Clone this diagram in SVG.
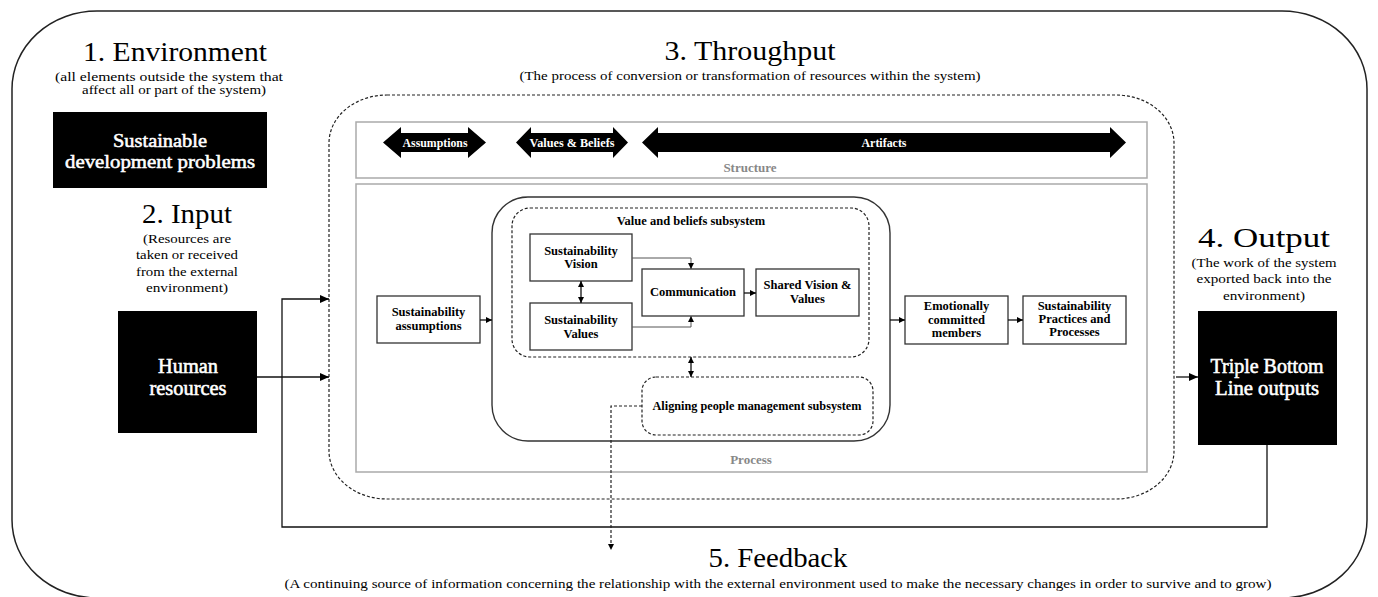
<svg xmlns="http://www.w3.org/2000/svg" width="1378" height="597" viewBox="0 0 1378 597">
<style>
text{font-family:"Liberation Serif","Times New Roman",serif;fill:#000}
.title{font-size:28px}
.sub{font-size:13.5px}
.wb{fill:#fff;stroke:#fff;stroke-width:0.55}
.bx{fill:#fff;stroke:#333;stroke-width:1.3}
.lbl{font-size:12.5px;font-weight:bold;text-anchor:middle}
.gray{fill:#888;font-size:13px;font-weight:bold;text-anchor:middle}
.mid{text-anchor:middle}
.ln{fill:none;stroke:#111;stroke-width:1.3}
.dash{fill:none;stroke:#222;stroke-width:1.2;stroke-dasharray:3 2}
.ab{fill:#fff;font-weight:bold;text-anchor:middle;font-size:11.5px}
</style>
<defs>
<marker id="ah" markerUnits="userSpaceOnUse" markerWidth="9" markerHeight="8" refX="9" refY="4" orient="auto-start-reverse"><path d="M0,0 L9,4 L0,8 z" fill="#000"/></marker>
<marker id="as" markerUnits="userSpaceOnUse" markerWidth="6" markerHeight="6" refX="6" refY="3" orient="auto-start-reverse"><path d="M0,0 L6,3 L0,6 z" fill="#000"/></marker>
</defs>

<g id="frame">
<rect x="12" y="11" width="1355" height="587" rx="85" ry="78" fill="none" stroke="#222" stroke-width="1.5"/>
</g>

<g id="environment">
<text class="title mid" x="175" y="61" textLength="184" lengthAdjust="spacingAndGlyphs">1. Environment</text>
<text class="sub mid" x="169" y="81" textLength="228" lengthAdjust="spacingAndGlyphs">(all elements outside the system that</text>
<text class="sub mid" x="174" y="94" textLength="184" lengthAdjust="spacingAndGlyphs">affect all or part of the system)</text>
</g>
<g id="sdp">
<rect x="53" y="112" width="214" height="76" fill="#000"/>
<text class="wb mid" x="160" y="147" font-size="19" textLength="94" lengthAdjust="spacingAndGlyphs">Sustainable</text>
<text class="wb mid" x="160" y="168" font-size="19" textLength="190" lengthAdjust="spacingAndGlyphs">development problems</text>
</g>

<g id="input">
<text class="title mid" x="187" y="223" textLength="90" lengthAdjust="spacingAndGlyphs">2. Input</text>
<text class="sub mid" x="187" y="243" textLength="88" lengthAdjust="spacingAndGlyphs">(Resources are</text>
<text class="sub mid" x="187" y="259" textLength="102" lengthAdjust="spacingAndGlyphs">taken or received</text>
<text class="sub mid" x="187" y="276" textLength="102" lengthAdjust="spacingAndGlyphs">from the external</text>
<text class="sub mid" x="187" y="292" textLength="82" lengthAdjust="spacingAndGlyphs">environment)</text>
</g>
<g id="human">
<rect x="118" y="311" width="139" height="122" fill="#000"/>
<text class="wb mid" x="188" y="373" font-size="20" textLength="60" lengthAdjust="spacingAndGlyphs">Human</text>
<text class="wb mid" x="188" y="395" font-size="20" textLength="77" lengthAdjust="spacingAndGlyphs">resources</text>
</g>

<g id="throughput">
<text class="title mid" x="750" y="60" textLength="171" lengthAdjust="spacingAndGlyphs">3. Throughput</text>
<text class="sub mid" x="750" y="80" textLength="461" lengthAdjust="spacingAndGlyphs">(The process of conversion or transformation of resources within the system)</text>
<rect x="329" y="95" width="845" height="404" rx="58" ry="48" class="dash"/>
</g>

<g id="structure">
<rect x="356" y="122" width="791" height="56" fill="none" stroke="#aaa" stroke-width="1.5"/>
<polygon points="383,142.5 401,127 401,133 468,133 468,127 486,142.5 468,158 468,152 401,152 401,158" fill="#000"/>
<text class="ab" x="435" y="146.5" textLength="65" lengthAdjust="spacingAndGlyphs">Assumptions</text>
<polygon points="516,142.5 531,127 531,133 613,133 613,127 628,142.5 613,158 613,152 531,152 531,158" fill="#000"/>
<text class="ab" x="572" y="146.5" textLength="85" lengthAdjust="spacingAndGlyphs">Values &amp; Beliefs</text>
<polygon points="642,142.5 658,127 658,133 1110,133 1110,127 1126,142.5 1110,158 1110,152 658,152 658,158" fill="#000"/>
<text class="ab" x="884" y="146.5" textLength="45" lengthAdjust="spacingAndGlyphs">Artifacts</text>
<text class="gray" x="750" y="172">Structure</text>
</g>

<g id="process">
<rect x="356" y="184" width="791" height="288" fill="none" stroke="#aaa" stroke-width="1.5"/>
<text class="gray" x="751" y="464">Process</text>
</g>

<g id="assumptions">
<rect x="377" y="296" width="103" height="47" class="bx"/>
<text class="lbl" x="428.5" y="316">Sustainability</text>
<text class="lbl" x="428.5" y="330">assumptions</text>
</g>

<g id="culture">
<rect x="492" y="197" width="398" height="244" rx="36" ry="36" fill="none" stroke="#333" stroke-width="1.4"/>
</g>

<g id="valuesubsystem">
<rect x="512" y="208" width="357" height="149" rx="18" ry="18" class="dash"/>
<text class="lbl" x="691" y="225" font-size="11.5">Value and beliefs subsystem</text>
</g>
<g id="vision">
<rect x="530" y="234" width="102" height="47" class="bx"/>
<text class="lbl" x="581" y="255">Sustainability</text>
<text class="lbl" x="581" y="268">Vision</text>
</g>
<g id="values">
<rect x="530" y="303" width="102" height="47" class="bx"/>
<text class="lbl" x="581" y="324">Sustainability</text>
<text class="lbl" x="581" y="338">Values</text>
</g>
<g id="communication">
<rect x="642" y="269" width="102" height="47" class="bx"/>
<text class="lbl" x="693" y="296">Communication</text>
</g>
<g id="shared">
<rect x="756" y="269" width="103" height="47" class="bx"/>
<text class="lbl" x="807.5" y="289">Shared Vision &amp;</text>
<text class="lbl" x="807.5" y="303">Values</text>
</g>
<g id="aligning">
<rect x="642" y="377" width="231" height="58" rx="14" ry="14" class="dash"/>
<text class="lbl" x="757" y="410" textLength="209" lengthAdjust="spacingAndGlyphs">Aligning people management subsystem</text>
</g>
<g id="emotional">
<rect x="905" y="296" width="103" height="48" class="bx"/>
<text class="lbl" x="956.5" y="310">Emotionally</text>
<text class="lbl" x="956.5" y="324">committed</text>
<text class="lbl" x="956.5" y="337">members</text>
</g>
<g id="practices">
<rect x="1023" y="296" width="103" height="48" class="bx"/>
<text class="lbl" x="1074.5" y="310">Sustainability</text>
<text class="lbl" x="1074.5" y="323">Practices and</text>
<text class="lbl" x="1074.5" y="336">Processes</text>
</g>

<g id="output">
<text class="title mid" x="1264" y="247" textLength="132" lengthAdjust="spacingAndGlyphs">4. Output</text>
<text class="sub mid" x="1264" y="267" textLength="145" lengthAdjust="spacingAndGlyphs">(The work of the system</text>
<text class="sub mid" x="1264" y="283" textLength="135" lengthAdjust="spacingAndGlyphs">exported back into the</text>
<text class="sub mid" x="1264" y="300" textLength="82" lengthAdjust="spacingAndGlyphs">environment)</text>
</g>
<g id="tbl">
<rect x="1198" y="311" width="139" height="134" fill="#000"/>
<text class="wb mid" x="1267" y="373" font-size="20" textLength="113" lengthAdjust="spacingAndGlyphs">Triple Bottom</text>
<text class="wb mid" x="1267" y="395" font-size="20" textLength="104" lengthAdjust="spacingAndGlyphs">Line outputs</text>
</g>

<g id="feedback">
<text class="title mid" x="778" y="567" textLength="139" lengthAdjust="spacingAndGlyphs">5. Feedback</text>
<text class="sub mid" x="778" y="588" textLength="987" lengthAdjust="spacingAndGlyphs">(A continuing source of information concerning the relationship with the external environment used to make the necessary changes in order to survive and to grow)</text>
</g>

<g id="connectors">
<line class="ln" x1="257" y1="377" x2="329" y2="377" marker-end="url(#ah)"/>
<polyline class="ln" points="1267,445 1267,527 282,527 282,299 329,299" marker-end="url(#ah)"/>
<line class="ln" x1="1176" y1="377" x2="1198" y2="377" marker-end="url(#ah)"/>
<line class="ln" x1="480" y1="320" x2="492" y2="320" marker-end="url(#as)"/>
<line class="ln" x1="890" y1="320" x2="905" y2="320" marker-end="url(#as)"/>
<line class="ln" x1="1008" y1="320" x2="1023" y2="320" marker-end="url(#as)"/>
<line class="ln" x1="744" y1="293" x2="756" y2="293" marker-end="url(#as)"/>
<polyline fill="none" stroke="#555" stroke-width="1" points="632,258 691,258 691,269" marker-end="url(#as)"/>
<polyline fill="none" stroke="#555" stroke-width="1" points="632,327 691,327 691,316" marker-end="url(#as)"/>
<line class="ln" x1="581" y1="281" x2="581" y2="303" marker-start="url(#as)" marker-end="url(#as)"/>
<line class="ln" x1="691" y1="357" x2="691" y2="377" marker-start="url(#as)" marker-end="url(#as)"/>
<polyline class="dash" points="642,406 611,406 611,550" marker-end="url(#as)"/>
</g>
</svg>
